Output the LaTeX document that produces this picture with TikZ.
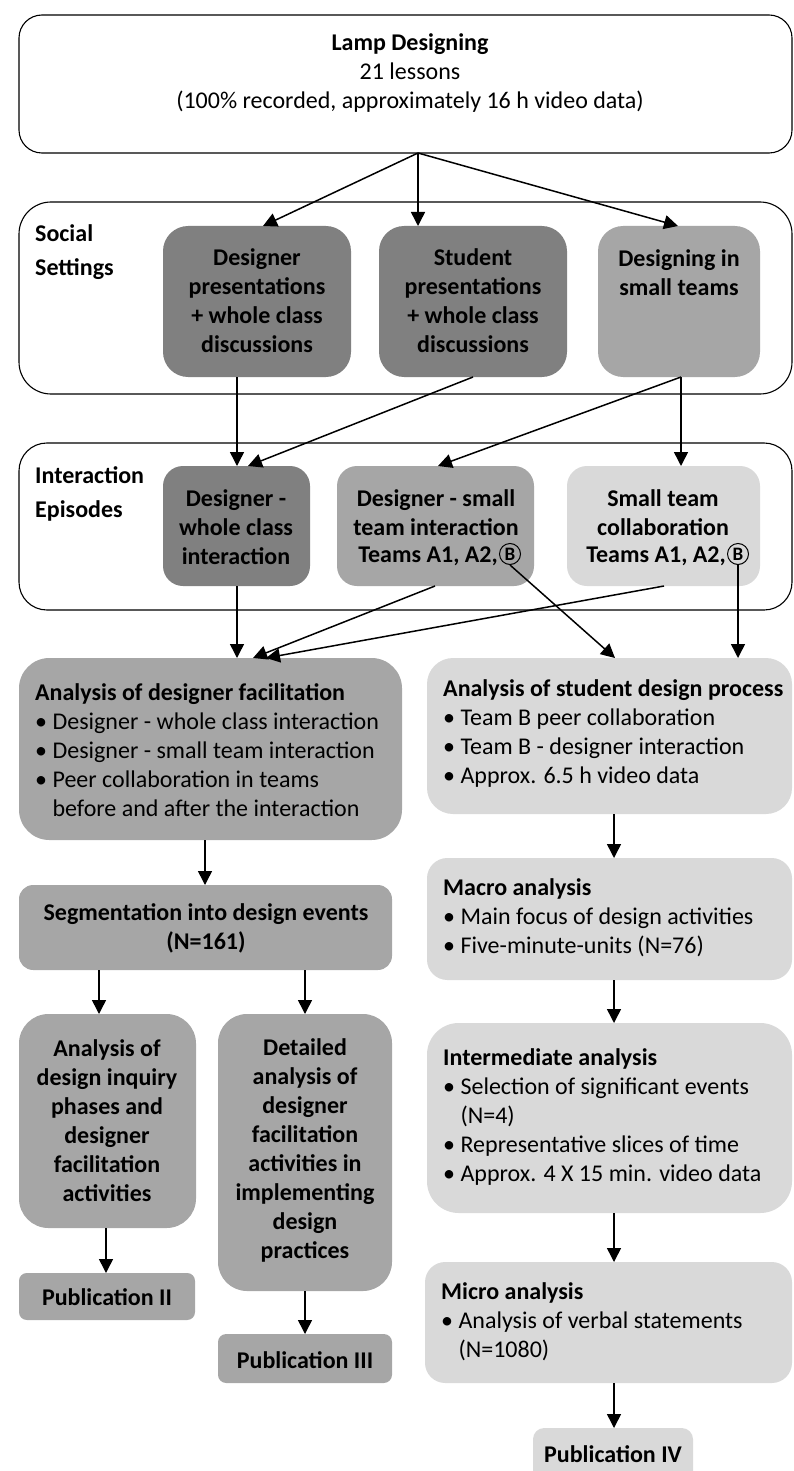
\documentclass[tikz,border=0pt]{standalone}
\usepackage{fontspec}
\setmainfont{Carlito}
\usetikzlibrary{arrows.meta,calc}
\definecolor{gA}{HTML}{808080}
\definecolor{gB}{HTML}{A6A6A6}
\definecolor{gC}{HTML}{D9D9D9}
\tikzset{
  cont/.style={draw=black, line width=1.1pt, fill=white},
  dark/.style={fill=gA},
  mid/.style={fill=gB},
  light/.style={fill=gC},
  arr/.style={line width=1.5pt, -{Triangle[length=14pt,width=14pt]}},
  txt/.style={font=\fontsize{24}{29}\selectfont, inner sep=0pt, align=center},
  txtb/.style={txt, font=\bfseries\fontsize{24}{29}\selectfont},
  lbl/.style={inner sep=0pt, align=left, anchor=west, font=\bfseries\fontsize{24}{34}\selectfont},
  lst/.style={txt, align=left, anchor=west},
  circB/.style={draw=black, circle, line width=1pt, inner sep=0pt, minimum size=21pt, font=\bfseries\fontsize{19}{20}\selectfont}
}
\newcommand\mkbox[6]{%
  \pgfmathsetmacro\myW{#4-#2}\pgfmathsetmacro\myH{#5-#3}\pgfmathsetmacro\myR{0.1667*min(\myW,\myH)}%
  \node[#6, rounded corners=\myR pt, minimum width=\myW pt, minimum height=\myH pt, anchor=north west, inner sep=0pt, outer sep=0pt] (#1) at (#2,#3) {};}
\newcommand\bl{\textbullet\ }
\begin{document}
\begin{tikzpicture}[x=1pt, y=-1pt]
\useasboundingbox (0,0) rectangle (794,1471);
% containers
\mkbox{top}{19}{15}{792}{153}{cont}
\mkbox{social}{19}{202}{792}{394}{cont}
\mkbox{inter}{19}{443}{792}{610}{cont}
% social settings boxes
\mkbox{dp}{163}{226}{351}{377}{dark}
\mkbox{sp}{379}{226}{567}{377}{dark}
\mkbox{dst}{598}{226}{760}{377}{mid}
% interaction boxes
\mkbox{dwc}{163}{466}{310}{586}{dark}
\mkbox{dsti}{337}{466}{534}{586}{mid}
\mkbox{stc}{567}{466}{760}{586}{light}
% analysis
\mkbox{adf}{19}{658}{402}{840}{mid}
\mkbox{asd}{427}{658}{792}{814}{light}
\mkbox{seg}{19}{885}{392}{970}{mid}
\mkbox{macro}{427}{858}{792}{980}{light}
\mkbox{adi}{19}{1014}{196}{1228}{mid}
\mkbox{det}{218}{1014}{392}{1291}{mid}
\mkbox{interm}{427}{1023}{792}{1213}{light}
\mkbox{pub2}{19}{1273}{195}{1320}{mid}
\mkbox{pub3}{218}{1334}{392}{1383}{mid}
\mkbox{micro}{425}{1262}{792}{1383}{light}
\mkbox{pub4}{533}{1428}{693}{1495}{light}

% texts
\node[txt] (ttop) at (410,73) {\textbf{Lamp Designing}\\21 lessons\\(100\% recorded, approximately 16 h video data)};
\node[lbl] (tsoc) at (35,252) {Social\\Settings};
\node[lbl] (tint) at (35,494) {Interaction\\Episodes};
\node[txtb] (tdp) at (257,301) {Designer\\presentations\\+ whole class\\discussions};
\node[txtb] (tsp) at (473,301) {Student\\presentations\\+ whole class\\discussions};
\node[txtb] (tdst) at (679,273) {Designing in\\small teams};
\node[txtb] (tdwc) at (236,527) {Designer -\\whole class\\interaction};
\node[txtb] (tdsti) at (436,513) {Designer - small\\team interaction};
\node[circB] (b1) at (510,554) {B};
\node[txtb, anchor=east] (tdsti3) at (498,556) {Teams A1, A2,};
\node[txtb] (tstc) at (663,513) {Small team\\collaboration};
\node[circB] (b2) at (738,554) {B};
\node[txtb, anchor=east] (tstc3) at (726,556) {Teams A1, A2,};

\node[lst] (tadf) at (35,750) {\textbf{Analysis of designer facilitation}\\\bl Designer - whole class interaction\\\bl Designer - small team interaction\\\bl Peer collaboration in teams\\\hphantom{\bl}before and after the interaction};
\node[lst] (tasd) at (443,734) {\textbf{Analysis of student design process}\\\bl Team B peer collaboration\\\bl Team B - designer interaction\\\bl Approx. 6.5 h video data};
\node[txtb] (tseg) at (206,928) {Segmentation into design events\\(N=161)};
\node[lst] (tmac) at (443,918) {\textbf{Macro analysis}\\\bl Main focus of design activities\\\bl Five-minute-units (N=76)};
\node[txtb] (tadi) at (107,1121) {Analysis of\\design inquiry\\phases and\\designer\\facilitation\\activities};
\node[txtb] (tdet) at (305,1150) {Detailed\\analysis of\\designer\\facilitation\\activities in\\implementing\\design\\practices};
\node[lst] (tintm) at (443,1117) {\textbf{Intermediate analysis}\\\bl Selection of significant events\\\hphantom{\bl}(N=4)\\\bl Representative slices of time\\\bl Approx. 4 X 15 min. video data};
\node[txtb] (tp2) at (107,1297) {Publication II};
\node[txtb] (tp3) at (305,1360) {Publication III};
\node[lst] (tmic) at (441,1322) {\textbf{Micro analysis}\\\bl Analysis of verbal statements\\\hphantom{\bl}(N=1080)};
\node[txtb] (tp4) at (613,1454) {Publication IV};

% arrows
\draw[arr] ([xshift=12.5pt]top.south) -- ([xshift=6pt]dp.north);
\draw[arr] ([xshift=12.5pt]top.south) -- ([xshift=-55pt]sp.north);
\draw[arr] ([xshift=12.5pt]top.south) -- ([xshift=-1pt]dst.north);
\draw[arr] ([xshift=-20pt]dp.south) -- ([xshift=0.5pt]dwc.north);
\draw[arr] (sp.south) -- ([xshift=11.5pt]dwc.north);
\draw[arr] ([xshift=2pt]dst.south) -- ([xshift=2.5pt]dsti.north);
\draw[arr] ([xshift=2pt]dst.south) -- ([xshift=17.5pt]stc.north);
\draw[arr] ([xshift=0.5pt]dwc.south) -- ([xshift=26.5pt]adf.north);
\draw[arr] ([xshift=-0.5pt]dsti.south) -- ([xshift=42.5pt]adf.north);
\draw[arr] ([xshift=0.5pt]stc.south) -- ([xshift=55.5pt]adf.north);
\draw[arr] (b1.south) -- ([xshift=5.5pt]asd.north);
\draw[arr] (b2.south) -- (b2.south |- asd.north);
\draw[arr] ([xshift=-5.5pt]adf.south) -- ([xshift=-0.5pt]seg.north);
\draw[arr] ([xshift=4.5pt]asd.south) -- ([xshift=4.5pt]macro.north);
\draw[arr] ([xshift=-106.5pt]seg.south) -- ([xshift=-8.5pt]adi.north);
\draw[arr] ([xshift=99.5pt]seg.south) -- (det.north);
\draw[arr] ([xshift=4.5pt]macro.south) -- ([xshift=4.5pt]interm.north);
\draw[arr] ([xshift=-1.5pt]adi.south) -- ([xshift=-1pt]pub2.north);
\draw[arr] (det.south) -- (pub3.north);
\draw[arr] ([xshift=4.5pt]interm.south) -- ([xshift=5.5pt]micro.north);
\draw[arr] ([xshift=5.5pt]micro.south) -- ([xshift=1pt]pub4.north);
\end{tikzpicture}
\end{document}
